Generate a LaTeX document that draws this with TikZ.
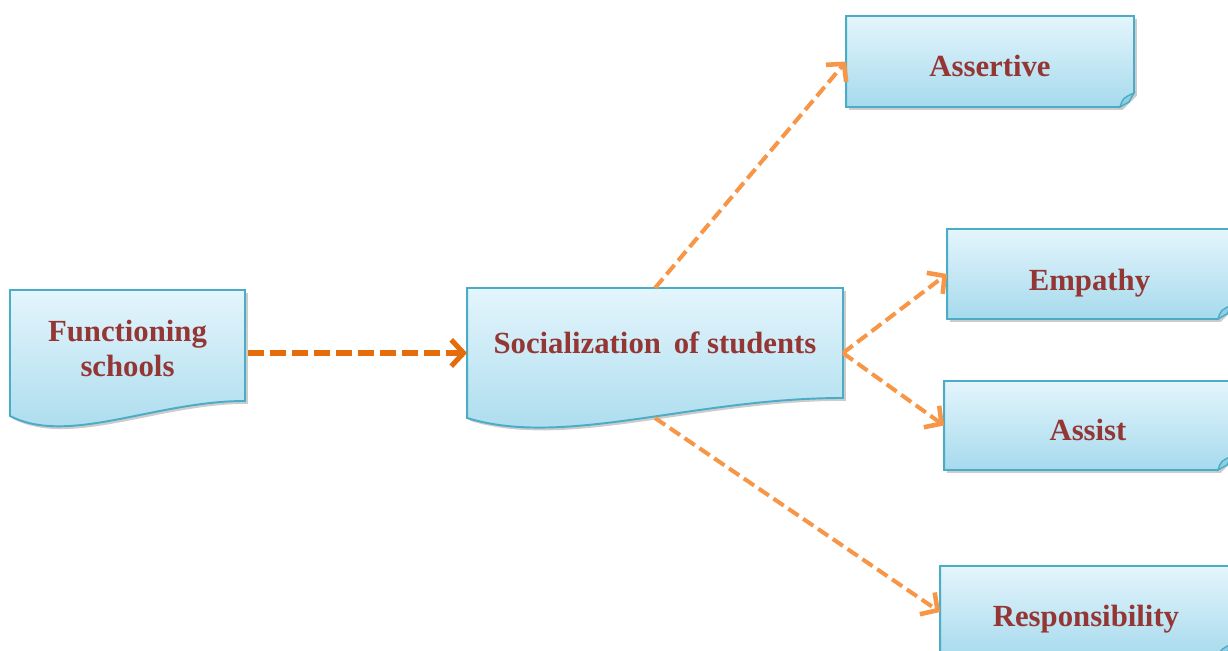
\documentclass[tikz,border=0pt]{standalone}
\usepackage{fontspec}
\setmainfont{Liberation Serif}
\usetikzlibrary{arrows.meta, backgrounds, shadows}

\definecolor{BoxTop}{HTML}{E4F5FC}
\definecolor{BoxBottom}{HTML}{A6DAED}
\definecolor{BoxLine}{HTML}{4BACC6}
\definecolor{LabelRed}{HTML}{943634}
\definecolor{DarkOrange}{HTML}{E46C0A}
\definecolor{LightOrange}{HTML}{F79646}

\tikzset{
  BoxText/.style={inner sep=0pt, outer sep=0pt, align=center, text=LabelRed,
                  font=\fontsize{17.5}{20}\selectfont\bfseries},
  NoteText/.style={BoxText, text height=#1, text depth=0pt},
  BoxFill/.style={top color=BoxTop, bottom color=BoxBottom, draw=BoxLine, line width=1.1pt,
                  drop shadow={shadow xshift=1.6pt, shadow yshift=-1.6pt, opacity=0.4}},
  FoldFill/.style={fill=BoxBottom!75!BoxLine, draw=BoxLine, line width=0.8pt},
  DashArrow/.style={draw=LightOrange, line width=2.3pt, dash pattern=on 7pt off 3.2pt,
                    -{Straight Barb[length=7pt, width=15pt, line width=2.6pt]}},
}

% wavy bottom box, #2 = rise of the right end
\newcommand{\WaveShape}[3]{%
  \path[BoxFill] (#1.north west) -- (#1.north east) -- ([shift={(0,-#2)}]#1.south east)
    .. controls +(-#3,0) and +(#3*0.65,30) .. (#1.south west) -- cycle;}
% box with folded corner
\newcommand{\NoteShape}[1]{%
  \path[BoxFill] (#1.north west) -- (#1.north east) -- ([shift={(0,-14)}]#1.south east)
    -- ([shift={(-14,0)}]#1.south east) -- (#1.south west) -- cycle;
  \path[FoldFill] ([shift={(-14,0)}]#1.south east) .. controls ([shift={(-11,-9)}]#1.south east)
    .. ([shift={(0,-14)}]#1.south east) -- ([shift={(-5,-5)}]#1.south east) -- cycle;}

\begin{document}
\begin{tikzpicture}[x=0.02cm, y=-0.02cm]
\useasboundingbox (0,0) rectangle (1228,650);

\node[BoxText, text depth=5pt, minimum width=4.7cm, minimum height=2.52cm] (fs) at (127.5,353) {Functioning\\schools};
\node[BoxText, text height=6pt, text depth=6pt, minimum width=7.52cm, minimum height=2.6cm] (sc) at (655,353) {Socialization\, of students};
\node[NoteText=17.2pt, minimum width=5.76cm, minimum height=1.82cm] (as) at (990,61.5) {Assertive};
\node[NoteText=19pt, minimum width=5.7cm, minimum height=1.8cm] (em) at (1089.5,274) {Empathy};
\node[NoteText=17pt, minimum width=5.76cm, minimum height=1.78cm] (ai) at (1088,425.5) {Assist};
\node[NoteText=17pt, minimum width=5.84cm, minimum height=1.84cm] (re) at (1086,612) {Responsibility};

\begin{scope}[on background layer]
  \WaveShape{fs}{15}{90}
  \WaveShape{sc}{20}{150}
  \NoteShape{as}
  \NoteShape{em}
  \NoteShape{ai}
  \NoteShape{re}
\end{scope}

\draw[DashArrow, draw=DarkOrange, line width=2.9pt, dash pattern=on 9pt off 3.5pt, shorten <=2pt,
      -{Straight Barb[length=7pt, width=15pt, line width=2.9pt]}] (fs.east) -- (sc.west);
\draw[DashArrow] (sc.north) -- (as.west);
\draw[DashArrow] (sc.east) -- (em.west);
\draw[DashArrow] (sc.east) -- (ai.west);
\draw[DashArrow] (sc.south) -- (re.west);
\end{tikzpicture}
\end{document}
